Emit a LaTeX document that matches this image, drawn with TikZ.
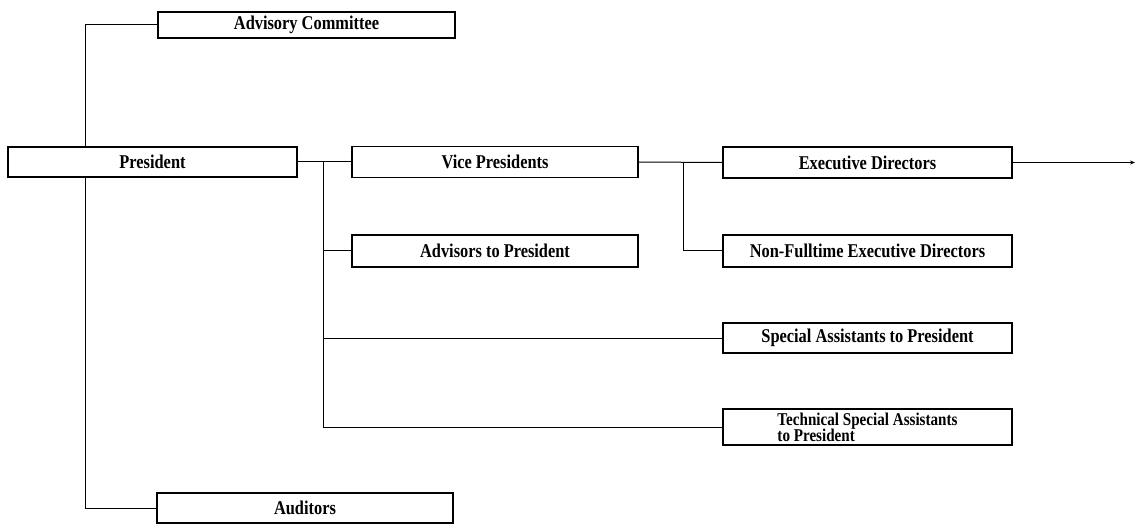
\documentclass[tikz,border=0pt]{standalone}
\usepackage{fontspec}
\setmainfont{Liberation Serif}[FakeStretch=0.84]
\usetikzlibrary{arrows.meta}
\tikzset{
  orgbox/.style={draw=black, line width=1.6pt, rectangle, minimum width=#1, inner sep=1pt,
    font=\bfseries\fontsize{19.5}{19.5}\selectfont},
  orgbox/.default=289pt,
  conn/.style={draw=black, line width=1pt},
}
\begin{document}
\begin{tikzpicture}[x=1pt, y=-1pt]
\useasboundingbox[fill=white] (0,0) rectangle (1137,529);
% boxes
\node[orgbox=297pt, minimum height=26pt] (adv) at (306.5,25) {Advisory Committee};
\node[orgbox=289pt, minimum height=30pt] (pres) at (152.5,162) {President};
\node[orgbox=286pt, minimum height=31pt] (vp) at (495,162) {Vice Presidents};
\node[orgbox=286pt, minimum height=32pt] (advp) at (495,251) {Advisors to President};
\node[orgbox=289pt, minimum height=31pt] (ed) at (867.5,162.5) {Executive Directors};
\node[orgbox=289pt, minimum height=32pt] (nfed) at (867.5,251) {Non-Fulltime Executive Directors};
\node[orgbox=289pt, minimum height=30pt] (sa) at (867.5,338) {Special Assistants to President};
\node[orgbox=289pt, minimum height=36pt, align=left, inner sep=0pt,
      font=\bfseries\fontsize{18}{15}\selectfont] (tsa) at (867.5,427) {Technical Special Assistants\\[-1.5pt]to President};
\node[orgbox=296pt, minimum height=30pt] (aud) at (305,508) {Auditors};
% helper coordinates
\coordinate (pl) at (85,162);
\coordinate (bx) at (323,162);
\coordinate (by) at (683,162);
\coordinate (out) at (1135,162.5);
% connectors
\draw[conn] (pres.north -| pl) |- (adv.west);
\draw[conn] (pres.south -| pl) |- (aud.west);
\draw[conn] (pres.east) -- (vp.west);
\draw[conn] (bx) |- (tsa.west);
\draw[conn] (bx |- advp.west) -- (advp.west);
\draw[conn] (bx |- sa.west) -- (sa.west);
\draw[conn] (vp.east) -- (ed.west);
\draw[conn] (by) |- (nfed.west);
\draw[conn, -{Stealth[length=5pt,width=4pt]}] (ed.east) -- (out);
\end{tikzpicture}
\end{document}
